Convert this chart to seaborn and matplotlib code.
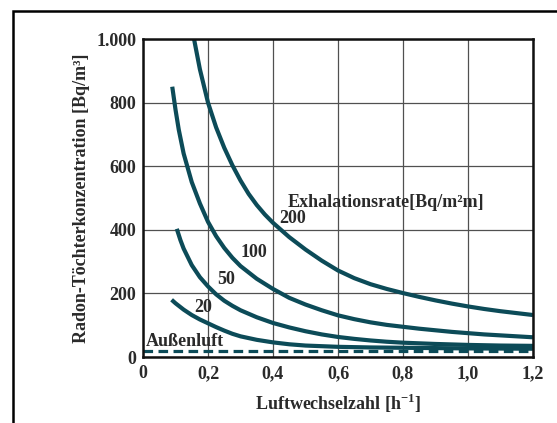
import numpy as np
import pandas as pd
import matplotlib
matplotlib.use("Agg")
import matplotlib.pyplot as plt
from matplotlib.patches import Rectangle
import seaborn as sns

# Data (Luftwechselzahl n, Konzentration c)
x200 = [0.157, 0.175, 0.2, 0.225, 0.25, 0.275, 0.3, 0.325, 0.35, 0.375, 0.4, 0.45,
        0.5, 0.55, 0.6, 0.65, 0.7, 0.75, 0.8, 0.85, 0.9, 0.95, 1.0, 1.05, 1.1,
        1.15, 1.2]
y200 = [1000, 905, 800, 722, 658, 603, 555, 513, 478, 448, 422, 377,
        338, 303, 272, 248, 229, 214, 201, 189, 178, 168, 159, 151, 144,
        138, 132]

x100 = [0.09, 0.1, 0.11, 0.125, 0.15, 0.175, 0.2, 0.225, 0.25, 0.275, 0.3, 0.35,
        0.4, 0.45, 0.5, 0.55, 0.6, 0.65, 0.7, 0.75, 0.8, 0.85, 0.9, 0.95, 1.0,
        1.05, 1.1, 1.15, 1.2]
y100 = [850, 778, 715, 640, 550, 483, 425, 380, 343, 312, 286, 246,
        214, 186, 165, 147, 131, 119, 109, 101, 95, 89, 84, 79, 75,
        71, 68, 65, 62]

x50 = [0.104, 0.115, 0.125, 0.15, 0.175, 0.2, 0.225, 0.25, 0.275, 0.3, 0.35, 0.4,
       0.45, 0.5, 0.55, 0.6, 0.65, 0.7, 0.75, 0.8, 0.85, 0.9, 0.95, 1.0, 1.05,
       1.1, 1.15, 1.2]
y50 = [403, 368, 341, 289, 251, 222, 197, 177, 161, 147, 125, 107,
       93, 81, 71, 63, 57, 52, 48, 45, 43, 41, 39.5, 38, 37,
       36, 35.5, 35]

x20 = [0.088, 0.1, 0.125, 0.15, 0.175, 0.2, 0.225, 0.25, 0.275, 0.3, 0.35, 0.4,
       0.45, 0.5, 0.55, 0.6, 0.7, 0.8, 0.9, 1.0, 1.1, 1.2]
y20 = [180, 169, 149, 132, 118, 106, 94, 83, 73, 65, 54, 46,
       40, 36, 34, 32, 30, 29, 28, 27, 26.5, 26]

x_aussen = [0.0, 1.2]
y_aussen = [18, 18]

rates = ["200", "100", "50", "20"]
x_ticks = [0, 0.2, 0.4, 0.6, 0.8, 1.0, 1.2]
x_ticklabels = ["0", "0,2", "0,4", "0,6", "0,8", "1,0", "1,2"]
y_ticks = [0, 200, 400, 600, 800, 1000]
y_ticklabels = ["0", "200", "400", "600", "800", "1.000"]

frames = []
for r, xs, ys in zip(rates, [x200, x100, x50, x20], [y200, y100, y50, y20]):
    frames.append(pd.DataFrame({"n": xs, "c": ys, "rate": r}))
df = pd.concat(frames, ignore_index=True)
df_out = pd.DataFrame({"n": x_aussen, "c": y_aussen})

sns.set_style("white")
plt.rcParams["font.family"] = ["Liberation Serif", "DejaVu Serif"]
plt.rcParams["mathtext.fontset"] = "custom"
plt.rcParams["mathtext.rm"] = "Liberation Serif"
plt.rcParams["mathtext.bf"] = "Liberation Serif:bold"

fig = plt.figure(figsize=(5.57, 4.23), dpi=100)
ax = fig.add_axes([143 / 557, 1 - 357 / 423, 390 / 557, 318 / 423])

col = "#0c4b58"
for r in rates:
    sns.lineplot(data=df[df["rate"] == r], x="n", y="c", ax=ax, color=col,
                 linewidth=3.0, sort=False, estimator=None, legend=False,
                 solid_capstyle="butt")
sns.lineplot(data=df_out, x="n", y="c", ax=ax, color=col, linewidth=2.3,
             linestyle=(0, (3.0, 1.7)), estimator=None, legend=False)

ax.set_xlim(0, 1.2)
ax.set_ylim(0, 1000)
ax.set_xticks(x_ticks)
ax.set_xticklabels(x_ticklabels)
ax.set_yticks(y_ticks)
ax.set_yticklabels(y_ticklabels)
ax.grid(True, color="#505050", linewidth=0.9)
ax.set_axisbelow(True)
for s in ax.spines.values():
    s.set_color("#111111")
    s.set_linewidth(1.8)
ax.tick_params(axis="both", length=0, labelsize=13, colors="#2a2a2a")
ax.tick_params(axis="x", pad=6)
ax.tick_params(axis="y", pad=5)
for lbl in ax.get_xticklabels() + ax.get_yticklabels():
    lbl.set_fontweight("bold")

ax.set_xlabel("Luftwechselzahl [h$^{\\mathbf{-1}}$]", fontsize=13,
              fontweight="bold", color="#2a2a2a", labelpad=7)
ax.set_ylabel("Radon-Töchterkonzentration [Bq/m³]", fontsize=13,
              fontweight="bold", color="#2a2a2a", labelpad=4)

tkw = dict(fontsize=13, fontweight="bold", color="#2a2a2a")
ax.text(0.446, 486, "Exhalationsrate[Bq/m²m]", ha="left", va="center", **tkw)
ax.text(0.46, 436, "200", ha="center", va="center", **tkw)
ax.text(0.34, 328, "100", ha="center", va="center", **tkw)
ax.text(0.257, 243, "50", ha="center", va="center", **tkw)
ax.text(0.184, 157, "20", ha="center", va="center", **tkw)
ax.text(0.01, 50, "Außenluft", ha="left", va="center", **tkw)

# outer frame (left and top visible)
fig.patches.append(Rectangle((13 / 557, -0.1), 1.2, 1 - 11 / 423 + 0.1,
                             transform=fig.transFigure, fill=False,
                             edgecolor="black", linewidth=1.8))

fig.savefig("out.png", dpi=100)
